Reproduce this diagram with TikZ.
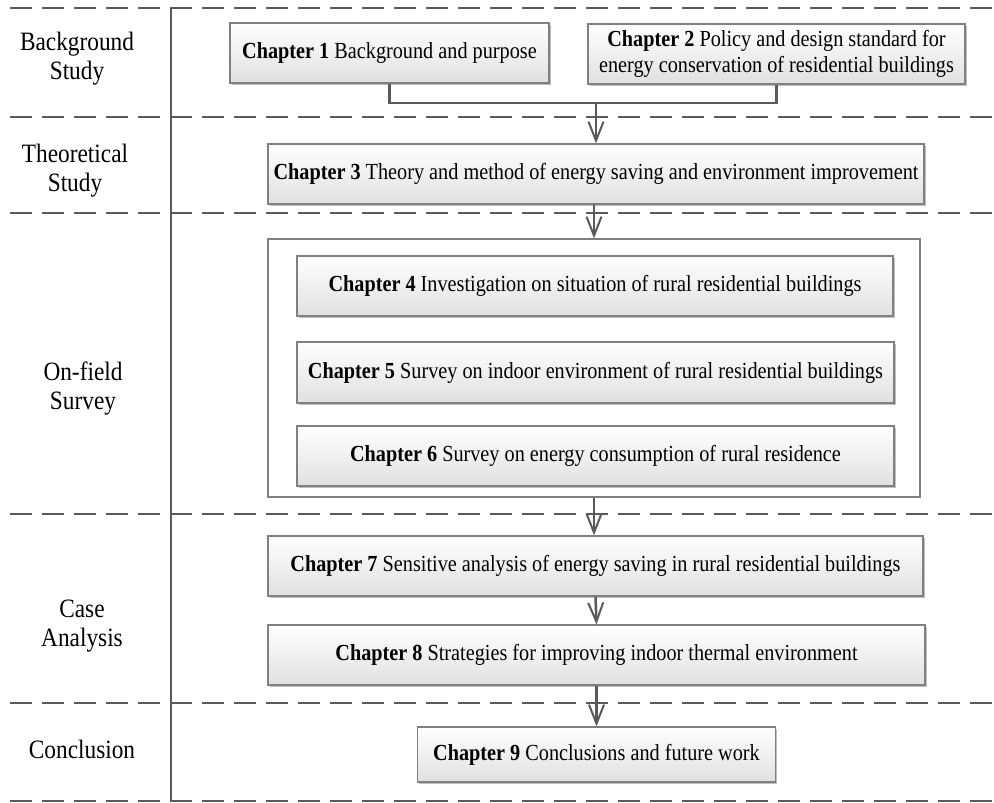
\documentclass[tikz,border=0pt]{standalone}
\usepackage{fontspec}
\setmainfont{Liberation Serif}[FakeStretch=0.88]
\usetikzlibrary{arrows.meta,shadows}
\definecolor{linegray}{HTML}{5A5A5A}
\definecolor{boxedge}{HTML}{808080}
\tikzset{
 chap/.style={draw=boxedge, line width=1.3pt, top color=white, bottom color=black!12,
   inner sep=0pt, align=center, font=\fontsize{23}{26}\selectfont,
   drop shadow={shadow xshift=1.5pt, shadow yshift=-1.5pt, opacity=0.25, fill=black}},
 lab/.style={align=center, font=\fontsize{26.5}{29}\selectfont},
 sep/.style={draw=linegray, line width=2pt, dash pattern=on 22pt off 10pt, dash phase=22pt},
 vline/.style={draw=linegray, line width=1.2pt},
 conn/.style={draw=linegray, line width=2.5pt},
 flow/.style={draw=linegray, line width=2.5pt, -{Straight Barb[length=19pt,width=15pt,line width=2pt]}},
 frame/.style={draw=boxedge, line width=1.3pt, fill=white, inner sep=0pt},
}
\begin{document}
\begin{tikzpicture}[x=1pt,y=-1pt]
\fill[white] (0,0) rectangle (994,803);
\useasboundingbox (0,0) rectangle (994,803);

% separators
\coordinate (s0l) at (0,8);   \coordinate (s0r) at (994,8);
\coordinate (s1l) at (0,117); \coordinate (s1r) at (994,117);
\coordinate (s2l) at (0,213); \coordinate (s2r) at (994,213);
\coordinate (s3l) at (0,514); \coordinate (s3r) at (994,514);
\coordinate (s4l) at (0,703); \coordinate (s4r) at (994,703);
\coordinate (s5l) at (0,801); \coordinate (s5r) at (994,801);
\foreach \i in {0,...,5} {\draw[sep] (s\i l) -- (s\i r);}
\coordinate (vt) at (171,8); \coordinate (vb) at (171,801);
\draw[vline] (vt) -- (vb);

% left labels
\node[lab] (l1) at (77,59) {Background\\Study};
\node[lab] (l2) at (75,171) {Theoretical\\Study};
\node[lab] (l3) at (83,389) {On-field\\Survey};
\node[lab] (l4) at (82,626) {Case\\Analysis};
\node[lab] (l5) at (82,749) {Conclusion};

% on-field frame
\node[frame, minimum width=652pt, minimum height=258pt] (survey) at (594,368) {};

% chapters
\node[chap, minimum width=319pt, minimum height=60pt] (c1) at (389.5,53) {\textbf{Chapter 1} Background and purpose};
\node[chap, minimum width=377pt, minimum height=60pt] (c2) at (776.5,54) {\textbf{Chapter 2} Policy and design standard for\\energy conservation of residential buildings};
\node[chap, minimum width=656pt, minimum height=60pt] (c3) at (596,174) {\textbf{Chapter 3} Theory and method of energy saving and environment improvement};
\node[chap, minimum width=596pt, minimum height=60pt] (c4) at (595,286) {\textbf{Chapter 4} Investigation on situation of rural residential buildings};
\node[chap, minimum width=597pt, minimum height=61pt] (c5) at (595.5,372.5) {\textbf{Chapter 5} Survey on indoor environment of rural residential buildings};
\node[chap, minimum width=597pt, minimum height=60pt] (c6) at (595.5,456) {\textbf{Chapter 6} Survey on energy consumption of rural residence};
\node[chap, minimum width=655pt, minimum height=60pt] (c7) at (595.5,566) {\textbf{Chapter 7} Sensitive analysis of energy saving in rural residential buildings};
\node[chap, minimum width=657pt, minimum height=60pt] (c8) at (596.5,655) {\textbf{Chapter 8} Strategies for improving indoor thermal environment};
\node[chap, minimum width=358pt, minimum height=55pt] (c9) at (596.5,754.5) {\textbf{Chapter 9} Conclusions and future work};

% connectors
\coordinate (m) at (596,103);
\draw[conn] (c1.south) |- (m) -| (c2.south);
\draw[flow] (m) -- (c3.north);
\draw[flow] (c3.south -| survey.north) -- (survey.north);
\draw[flow] (survey.south) -- (survey.south |- c7.north);
\draw[flow] (c7.south) -- (c8.north);
\draw[flow] (c8.south) -- (c9.north);
\end{tikzpicture}
\end{document}
